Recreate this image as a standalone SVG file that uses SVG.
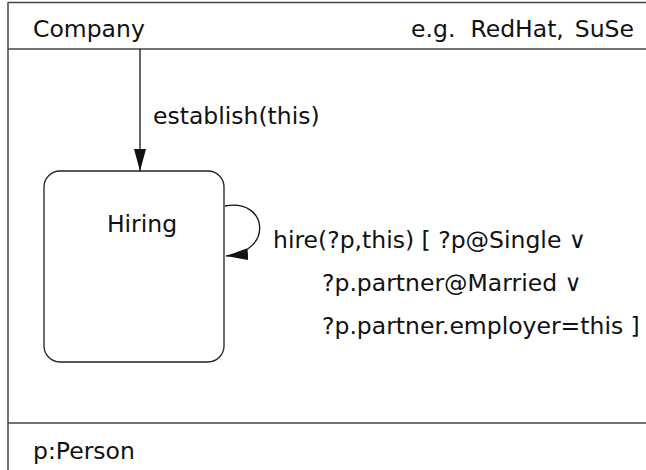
<svg xmlns="http://www.w3.org/2000/svg" width="646" height="470" viewBox="0 0 646 470">
  <style>
    .frame { fill: none; stroke: #444; stroke-width: 1.5; }
    .state { fill: #fff; stroke: #222; stroke-width: 1.3; }
    .edge { fill: none; stroke: #111; stroke-width: 1.3; }
    text { font-family: "DejaVu Sans", "Liberation Sans", sans-serif; font-size: 23.5px; fill: #111; }
  </style>
  <defs>
    <marker id="arrow" viewBox="0 0 22 12" refX="22" refY="6" markerWidth="22" markerHeight="12" markerUnits="userSpaceOnUse" orient="auto">
      <path d="M0,0 L22,6 L0,12 Z" fill="#111"/>
    </marker>
  </defs>
  <rect width="646" height="470" fill="#fff"/>

  <!-- class frame: name compartment, behaviour compartment, attribute compartment -->
  <g id="company-frame">
    <line class="frame" x1="8" y1="2.5" x2="646" y2="2.5"/>
    <line class="frame" x1="8" y1="2" x2="8" y2="470"/>
    <line class="frame" x1="8" y1="49" x2="646" y2="49"/>
    <line class="frame" x1="8" y1="423" x2="646" y2="423"/>
    <text x="33" y="37">Company</text>
    <text x="634" y="37" text-anchor="end">e.g.<tspan dx="15">RedHat,</tspan><tspan dx="11">SuSe</tspan></text>
    <text x="33" y="459">p:Person</text>
  </g>

  <!-- state -->
  <g id="state-hiring">
    <rect class="state" x="44" y="171" width="180" height="191" rx="16" ry="16"/>
    <text x="142" y="232" text-anchor="middle">Hiring</text>
  </g>

  <!-- transitions -->
  <g id="connectors">
    <line class="edge" x1="140" y1="49" x2="140" y2="171" marker-end="url(#arrow)"/>
    <path class="edge" d="M225,206 C268,198 274,252 226,256" marker-end="url(#arrow)"/>
  </g>

  <!-- transition labels -->
  <g id="labels">
    <text x="153" y="124">establish(this)</text>
    <text x="273" y="248">hire(?p,this) [ ?p@Single ∨</text>
    <text x="322" y="291">?p.partner@Married ∨</text>
    <text x="322" y="334">?p.partner.employer=this ]</text>
  </g>
</svg>
